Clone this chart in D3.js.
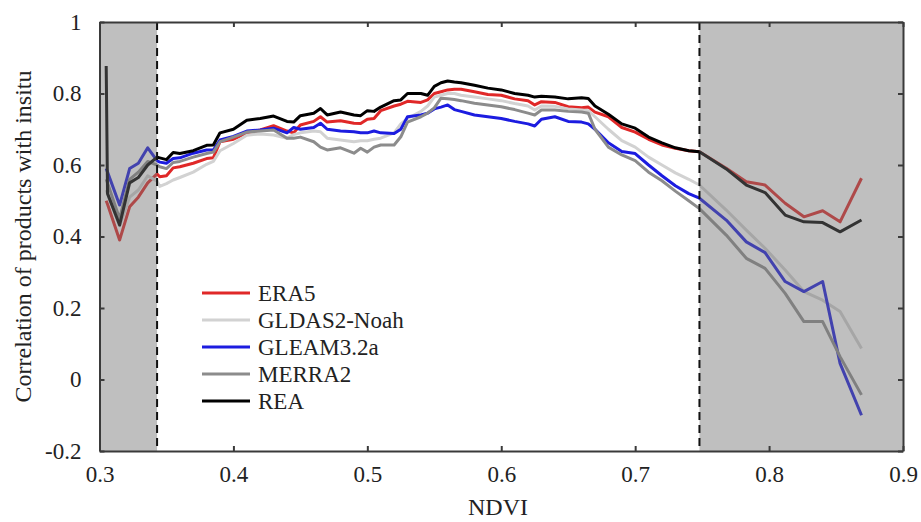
<!DOCTYPE html>
<html>
<head>
<meta charset="utf-8">
<script src="https://cdn.jsdelivr.net/npm/d3@7"></script>
<style>
    body { margin: 0; background: #fff; }
    svg text { font-family: "Times New Roman", "Liberation Serif", "DejaVu Serif", serif; fill: #222; }
</style>
</head>
<body>
<script>
// NDVI sample points (shared by all products)
var ndvi = [0.305, 0.306, 0.315, 0.3225, 0.329, 0.336, 0.343,
    0.345, 0.35, 0.355, 0.36, 0.37, 0.38, 0.385, 0.39, 0.40, 0.41, 0.42, 0.43, 0.44, 0.445,
    0.45, 0.46, 0.465, 0.47, 0.48, 0.49, 0.495, 0.50, 0.505, 0.51, 0.52, 0.525, 0.53, 0.54,
    0.545, 0.55, 0.555, 0.56, 0.565, 0.57, 0.58, 0.59, 0.60, 0.61, 0.62, 0.625, 0.63, 0.64,
    0.65, 0.66, 0.665, 0.67, 0.68, 0.69, 0.70, 0.71, 0.72, 0.73, 0.74,
    0.748, 0.768, 0.783, 0.797, 0.812, 0.826, 0.840, 0.853, 0.869];

var era5 = [0.50, 0.49, 0.39, 0.483, 0.51, 0.55, 0.575,
    0.567, 0.57, 0.592, 0.595, 0.605, 0.618, 0.62, 0.665, 0.672, 0.69, 0.698, 0.71, 0.695, 0.69,
    0.712, 0.722, 0.735, 0.72, 0.724, 0.717, 0.716, 0.728, 0.73, 0.752, 0.765, 0.77, 0.778, 0.775,
    0.782, 0.80, 0.805, 0.81, 0.812, 0.812, 0.805, 0.797, 0.795, 0.785, 0.78, 0.768, 0.777, 0.775,
    0.763, 0.76, 0.762, 0.748, 0.735, 0.705, 0.692, 0.672, 0.656, 0.647, 0.64,
    0.637, 0.591, 0.553, 0.544, 0.493, 0.455, 0.472, 0.441, 0.563];

var gldas = [0.53, 0.52, 0.43, 0.51, 0.53, 0.57, 0.555,
    0.54, 0.548, 0.558, 0.565, 0.58, 0.602, 0.61, 0.64, 0.66, 0.683, 0.687, 0.684, 0.675, 0.685,
    0.69, 0.695, 0.693, 0.675, 0.67, 0.665, 0.668, 0.668, 0.672, 0.675, 0.69, 0.715, 0.73, 0.75,
    0.765, 0.79, 0.795, 0.80, 0.80, 0.795, 0.79, 0.785, 0.78, 0.772, 0.765, 0.754, 0.765, 0.764,
    0.757, 0.754, 0.752, 0.735, 0.70, 0.668, 0.65, 0.622, 0.60, 0.578, 0.56,
    0.544, 0.474, 0.418, 0.367, 0.306, 0.246, 0.222, 0.19, 0.087];

var gleam = [0.59, 0.58, 0.488, 0.59, 0.605, 0.648, 0.612,
    0.608, 0.605, 0.618, 0.62, 0.633, 0.642, 0.642, 0.67, 0.68, 0.695, 0.698, 0.703, 0.69, 0.705,
    0.70, 0.705, 0.717, 0.70, 0.695, 0.693, 0.69, 0.69, 0.695, 0.69, 0.688, 0.70, 0.735, 0.74,
    0.745, 0.757, 0.762, 0.768, 0.755, 0.75, 0.74, 0.735, 0.73, 0.722, 0.715, 0.709, 0.728, 0.735,
    0.722, 0.72, 0.715, 0.70, 0.662, 0.638, 0.632, 0.60, 0.57, 0.542, 0.52,
    0.507, 0.446, 0.385, 0.355, 0.274, 0.246, 0.274, 0.045, -0.10];

var merra2 = [0.56, 0.55, 0.45, 0.56, 0.58, 0.61, 0.60,
    0.595, 0.59, 0.607, 0.61, 0.622, 0.632, 0.636, 0.665, 0.678, 0.692, 0.695, 0.698, 0.675, 0.675,
    0.678, 0.665, 0.65, 0.642, 0.648, 0.633, 0.647, 0.636, 0.65, 0.656, 0.656, 0.679, 0.72, 0.735,
    0.745, 0.76, 0.787, 0.785, 0.783, 0.78, 0.773, 0.768, 0.763, 0.755, 0.745, 0.74, 0.754, 0.754,
    0.75, 0.748, 0.745, 0.70, 0.65, 0.628, 0.612, 0.58, 0.556, 0.527, 0.50,
    0.478, 0.404, 0.339, 0.311, 0.241, 0.162, 0.162, 0.064, -0.043];

var rea = [0.877, 0.52, 0.432, 0.55, 0.565, 0.60, 0.622,
    0.62, 0.615, 0.635, 0.632, 0.64, 0.655, 0.656, 0.69, 0.70, 0.725, 0.73, 0.737, 0.722, 0.72,
    0.738, 0.745, 0.758, 0.74, 0.748, 0.74, 0.738, 0.752, 0.75, 0.762, 0.78, 0.782, 0.80, 0.80,
    0.795, 0.82, 0.83, 0.835, 0.832, 0.83, 0.823, 0.815, 0.81, 0.80, 0.795, 0.79, 0.792, 0.79,
    0.785, 0.788, 0.786, 0.765, 0.742, 0.715, 0.703, 0.678, 0.662, 0.648, 0.64,
    0.637, 0.589, 0.544, 0.523, 0.46, 0.441, 0.439, 0.413, 0.446];

var products = ["ERA5", "GLDAS2-Noah", "GLEAM3.2a", "MERRA2", "REA"];
var colors = ["#e02828", "#d2d2d2", "#1c1ce0", "#8c8c8c", "#000000"];
var seriesValues = [era5, gldas, gleam, merra2, rea];

// shaded NDVI ranges
var shaded = [[0.3, 0.343], [0.748, 0.9]];

var xTicks = [0.3, 0.4, 0.5, 0.6, 0.7, 0.8, 0.9];
var yTicks = [-0.2, 0, 0.2, 0.4, 0.6, 0.8, 1];

var serif = "'Times New Roman', 'Liberation Serif', 'DejaVu Serif', serif";

function drawChart() {
    var width = 921, height = 522;
    var left = 99.5, right = 903, top = 22, bottom = 451;

    var svg = d3.select("body").append("svg")
        .attr("width", width)
        .attr("height", height)
        .attr("font-family", serif);

    var x = d3.scaleLinear().domain([0.3, 0.9]).range([left, right]);
    var y = d3.scaleLinear().domain([-0.2, 1]).range([bottom, top]);

    var line = d3.line()
        .x(function(d) { return x(d[0]); })
        .y(function(d) { return y(d[1]); });

    // lines
    seriesValues.forEach(function(vals, i) {
        var pts = ndvi.map(function(n, j) { return [n, vals[j]]; });
        svg.append("path")
            .attr("d", line(pts))
            .attr("fill", "none")
            .attr("stroke", colors[i])
            .attr("stroke-width", 3)
            .attr("stroke-linejoin", "round");
    });

    // semi transparent gray patches on top of the lines
    svg.selectAll("rect.shade")
        .data(shaded)
        .enter().append("rect")
        .attr("class", "shade")
        .attr("x", function(d) { return x(d[0]); })
        .attr("y", top)
        .attr("width", function(d) { return x(d[1]) - x(d[0]); })
        .attr("height", bottom - top)
        .attr("fill", "rgb(113,113,113)")
        .attr("fill-opacity", 0.45);

    // dashed boundaries
    svg.selectAll("line.bound")
        .data([shaded[0][1], shaded[1][0]])
        .enter().append("line")
        .attr("class", "bound")
        .attr("x1", function(d) { return x(d); })
        .attr("x2", function(d) { return x(d); })
        .attr("y1", top)
        .attr("y2", bottom)
        .attr("stroke", "#111")
        .attr("stroke-width", 2)
        .attr("stroke-dasharray", "8,5");

    // axes (ticks inside, box style)
    var axisColor = "#3a3a3a";
    var fmt = function(d) { return String(+d.toFixed(1)); };

    svg.append("g")
        .attr("transform", "translate(0," + bottom + ")")
        .call(d3.axisBottom(x).tickValues(xTicks).tickFormat(fmt).tickSizeInner(-5).tickSizeOuter(0).tickPadding(15));
    svg.append("g")
        .attr("transform", "translate(" + left + ",0)")
        .call(d3.axisLeft(y).tickValues(yTicks).tickFormat(fmt).tickSizeInner(-5).tickSizeOuter(0).tickPadding(18));
    svg.append("g")
        .attr("transform", "translate(0," + top + ")")
        .call(d3.axisTop(x).tickValues(xTicks).tickFormat("").tickSizeInner(-5).tickSizeOuter(0));
    svg.append("g")
        .attr("transform", "translate(" + right + ",0)")
        .call(d3.axisRight(y).tickValues(yTicks).tickFormat("").tickSizeInner(-5).tickSizeOuter(0));

    svg.selectAll("g").attr("font-family", serif);
    svg.selectAll(".domain").attr("stroke", axisColor).attr("stroke-width", 2);
    svg.selectAll(".tick line").attr("stroke", axisColor).attr("stroke-width", 2);
    svg.selectAll(".tick text")
        .style("font-family", serif)
        .style("font-size", "23px")
        .attr("fill", "#222");

    // axis titles
    svg.append("text")
        .attr("x", 498)
        .attr("y", 515)
        .attr("text-anchor", "middle")
        .style("font-family", serif)
        .style("font-size", "24px")
        .text("NDVI");
    svg.append("text")
        .attr("transform", "translate(31," + (top + bottom) / 2 + ") rotate(-90)")
        .attr("text-anchor", "middle")
        .style("font-family", serif)
        .style("font-size", "24px")
        .text("Correlation of products with insitu");

    // legend
    var legend = svg.append("g").attr("transform", "translate(202,293)");
    products.forEach(function(p, i) {
        var g = legend.append("g").attr("transform", "translate(0," + i * 27 + ")");
        g.append("line")
            .attr("x1", 0).attr("x2", 48)
            .attr("stroke", colors[i])
            .attr("stroke-width", 3);
        g.append("text")
            .attr("x", 56)
            .attr("y", 8)
            .style("font-family", serif)
            .style("font-size", "23px")
            .text(p);
    });
}

window.onload = function() {
    drawChart();
};
</script>
</body>
</html>
